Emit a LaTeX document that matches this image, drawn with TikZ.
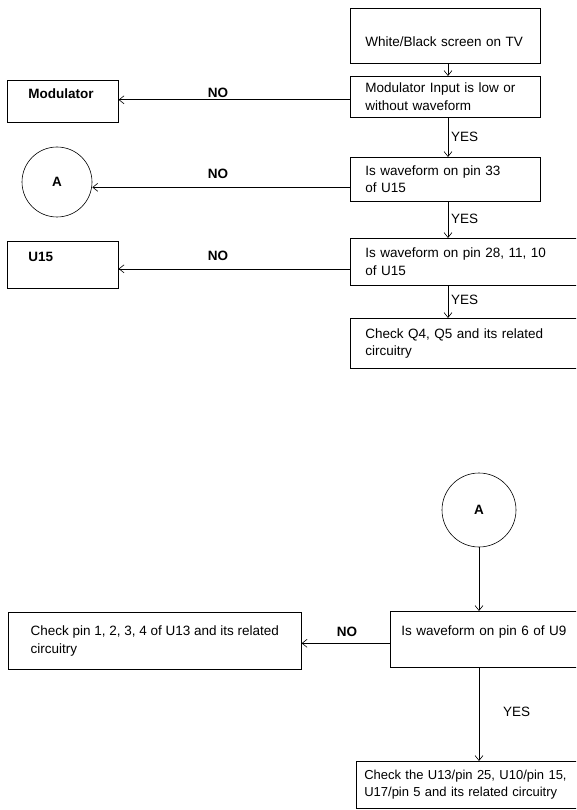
\documentclass[tikz,border=0pt]{standalone}
\usepackage{fontspec}
\setmainfont{Liberation Sans}
\usetikzlibrary{arrows.meta,calc}
\begin{document}
\begin{tikzpicture}[x=1pt,y=-1pt,
  font=\fontsize{13.5}{17.5}\selectfont,
  box/.style={draw, line width=0.6pt, anchor=north west, inner xsep=15pt, inner ysep=0pt, align=left},
  sidebox/.style={draw, line width=0.6pt, anchor=north west, inner xsep=21pt, inner ysep=0pt, align=left, font=\fontsize{13.5}{17.5}\selectfont\bfseries},
  circ/.style={draw, circle, line width=0.6pt, inner sep=0pt, font=\fontsize{13.5}{17.5}\selectfont\bfseries},
  arr/.style={line width=0.6pt, -{Straight Barb[length=5pt,width=8pt]}},
  nolab/.style={inner sep=0pt, anchor=center, font=\fontsize{13.5}{17.5}\selectfont\bfseries},
  yeslab/.style={inner sep=0pt, anchor=west},
]
\useasboundingbox (0,0) rectangle (576,810);
\clip (0,0) rectangle (576,810);

% top flow
\node[box, minimum width=190pt, minimum height=55pt, text width=160pt] (b1) at (350,8) {\rule{0pt}{22pt}White/Black screen on TV};
\node[box, minimum width=190pt, minimum height=41pt, text width=160pt] (b2) at (350,76) {Modulator Input is low or\\without waveform};
\node[box, minimum width=190pt, minimum height=44pt, text width=160pt] (b3) at (350,157) {Is waveform on pin 33\\of U15};
\node[box, minimum width=250pt, minimum height=47pt, text width=220pt] (b4) at (350,238) {Is waveform on pin 28, 11, 10\\of U15};
\node[box, minimum width=250pt, minimum height=50pt, text width=220pt] (b5) at (350,318) {Check Q4, Q5 and its related\\circuitry};

\node[sidebox, minimum width=111pt, minimum height=42pt, text width=69pt] (mod) at (7,80) {\rule[-15pt]{0pt}{15pt}Modulator};
\node[circ, minimum size=70pt] (a1) at (57,182) {A};
\node[sidebox, minimum width=111pt, minimum height=47pt, text width=69pt] (u15) at (7,241) {\rule[-15pt]{0pt}{15pt}U15};

\coordinate (xa) at (448,0);
\draw[arr] (b1.south -| xa) -- (b2.north -| xa);
\draw[arr] (b2.south -| xa) -- (b3.north -| xa);
\draw[arr] (b3.south -| xa) -- (b4.north -| xa);
\draw[arr] (b4.south -| xa) -- (b5.north -| xa);
\node[yeslab] at (451,137) {YES};
\node[yeslab] at (451,219) {YES};
\node[yeslab] at (451,300) {YES};

\draw[arr] ($(b2.west)+(0,3)$) -- ($(b2.west -| mod.east)+(0,3)$);
\draw[arr] ($(b3.west)+(0,8)$) -- ($(b3.west -| a1.east)+(0,8)$);
\draw[arr] ($(b4.west)+(0,7)$) -- ($(b4.west -| u15.east)+(0,7)$);
\node[nolab] at (218,93) {NO};
\node[nolab] at (218,174) {NO};
\node[nolab] at (218,256) {NO};

% bottom flow
\node[circ, minimum size=74pt] (a2) at (479,510) {A};
\node[box, inner xsep=11pt, minimum width=240pt, minimum height=56pt, text width=218pt] (b6) at (390,611) {\rule[-17pt]{0pt}{17pt}Is waveform on pin 6 of U9};
\node[draw, line width=0.6pt, anchor=north west, inner sep=0pt, align=left, minimum width=293pt, minimum height=57pt] (lb) at (8,612) {Check pin 1, 2, 3, 4 of U13 and its related\\circuitry};
\node[box, inner xsep=8pt, minimum width=260pt, minimum height=47pt, text width=244pt, font=\fontsize{13}{17.5}\selectfont] (b7) at (356,761) {Check the U13/pin 25, U10/pin 15,\\U17/pin 5 and its related circuitry};

\draw[arr] (a2.south) -- (a2.south |- b6.north);
\draw[arr] ($(b6.west)+(0,4)$) -- ($(b6.west -| lb.east)+(0,4)$);
\node[nolab] at (347,632) {NO};
\draw[arr] (a2.south |- b6.south) -- (a2.south |- b7.north);
\node[yeslab] at (503,712) {YES};
\end{tikzpicture}
\end{document}
